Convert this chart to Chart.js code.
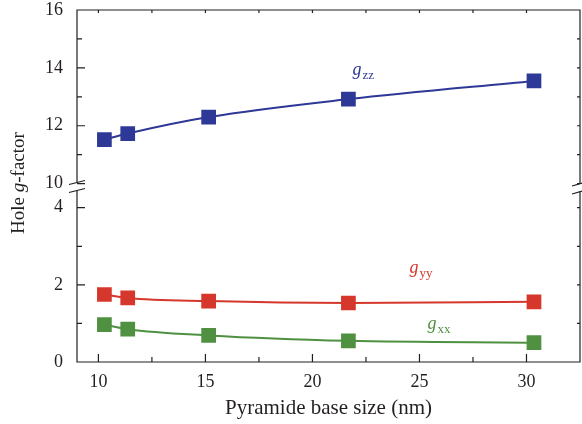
<!DOCTYPE html>
<html>
<head>
<meta charset="utf-8">
<script src="https://cdn.jsdelivr.net/npm/chart.js@4"></script>
<style>
    html, body { margin: 0; padding: 0; background: #fff; }
    #wrap { width: 582px; height: 424px; position: relative; }
</style>
</head>
<body>
<div id="wrap"><canvas id="gChart"></canvas></div>
<script>

const sizes = [10.28, 11.37, 15.15, 21.68, 30.35];
const gzz = [11.52, 11.73, 12.30, 12.92, 13.55];
const gyy = [1.75, 1.66, 1.58, 1.53, 1.56];
const gxx = [0.97, 0.85, 0.69, 0.55, 0.50];

const xTicks = [10, 12.5, 15, 17.5, 20, 22.5, 25, 27.5, 30];
const xMajor = [10, 15, 20, 25, 30];
const topTicks = [10, 11, 12, 13, 14, 15, 16];
const topMajor = [10, 12, 14, 16];
const botTicks = [0, 1, 2, 3, 4];
const botMajor = [0, 2, 4];

const colors = {
    zz: '#2e3896',
    yy: '#d6372c',
    xx: '#4f9140',
    axis: '#231f20'
};

// label anchors in data units
const seriesLabels = [
    { main: 'g', sub: 'zz', x: 21.87, y: 13.75, axis: 'yTop', color: colors.zz },
    { main: 'g', sub: 'yy', x: 24.53, y: 2.31, axis: 'yBot', color: colors.yy },
    { main: 'g', sub: 'xx', x: 25.37, y: 0.86, axis: 'yBot', color: colors.xx }
];

const serif = '"Liberation Serif", "DejaVu Serif", serif';

function series(values, color, axis) {
    return {
        data: values.map((v, i) => ({ x: sizes[i], y: v })),
        borderColor: color,
        backgroundColor: color,
        borderWidth: 2,
        cubicInterpolationMode: 'monotone',
        pointStyle: 'rect',
        pointRadius: 10.4,
        pointBorderWidth: 0,
        pointBackgroundColor: color,
        yAxisID: axis
    };
}

function fixedTicks(list) {
    return function (scale) {
        scale.ticks = list.map(v => ({ value: v }));
    };
}

// no edge padding from the tick labels
function noPad(size) {
    return function (scale) {
        if (scale.isHorizontal()) scale.height = size;
        else scale.width = size;
        scale.paddingLeft = 0;
        scale.paddingRight = 0;
        scale.paddingTop = 0;
        scale.paddingBottom = 0;
    };
}

const framePlugin = {
    id: 'frame',
    afterDraw(chart) {
        const ctx = chart.ctx;
        const a = chart.chartArea;
        const xs = chart.scales.x;
        const yt = chart.scales.yTop;
        const yb = chart.scales.yBot;
        const brk = yt.bottom;

        ctx.save();
        ctx.strokeStyle = colors.axis;
        ctx.lineWidth = 1.2;
        ctx.lineCap = 'butt';

        // frame with gaps at the break
        ctx.beginPath();
        ctx.moveTo(a.left, brk - 4);
        ctx.lineTo(a.left, a.top);
        ctx.lineTo(a.right, a.top);
        ctx.lineTo(a.right, brk - 3);
        ctx.moveTo(a.right, brk + 5);
        ctx.lineTo(a.right, a.bottom);
        ctx.lineTo(a.left, a.bottom);
        ctx.lineTo(a.left, brk + 4);
        ctx.stroke();

        // break marks
        ctx.beginPath();
        [-4, 4].forEach(d => {
            ctx.moveTo(a.left - 8, brk + d + 2);
            ctx.lineTo(a.left + 8, brk + d - 2);
            ctx.moveTo(a.right - 8, brk + d + 3.5);
            ctx.lineTo(a.right + 2, brk + d + 0.5);
        });
        ctx.stroke();

        // tick marks pointing inward
        ctx.beginPath();
        xTicks.forEach(v => {
            const px = xs.getPixelForValue(v);
            const len = xMajor.includes(v) ? 8 : 5;
            ctx.moveTo(px, a.bottom);
            ctx.lineTo(px, a.bottom - len);
            ctx.moveTo(px, a.top);
            ctx.lineTo(px, a.top + 3);
        });
        [[yt, topTicks, topMajor], [yb, botTicks, botMajor]].forEach(([sc, list, major]) => {
            list.forEach(v => {
                const py = sc.getPixelForValue(v);
                if (py <= a.top + 1 || py >= a.bottom - 1) return;
                const len = major.includes(v) ? 8 : 5;
                ctx.moveTo(a.left, py);
                ctx.lineTo(a.left + len, py);
                ctx.moveTo(a.right, py);
                ctx.lineTo(a.right - 3, py);
            });
        });
        ctx.stroke();

        // series labels
        ctx.textBaseline = 'alphabetic';
        ctx.textAlign = 'left';
        seriesLabels.forEach(l => {
            const px = xs.getPixelForValue(l.x);
            const py = chart.scales[l.axis].getPixelForValue(l.y);
            ctx.fillStyle = l.color;
            ctx.font = 'italic 18px ' + serif;
            ctx.fillText(l.main, px, py);
            const w = ctx.measureText(l.main).width;
            ctx.font = '13px ' + serif;
            ctx.fillText(l.sub, px + w + 1, py + 4);
        });

        // y title with italic g
        ctx.fillStyle = colors.axis;
        ctx.translate(19, 183);
        ctx.rotate(-Math.PI / 2);
        const parts = [['Hole ', ''], ['g', 'italic '], ['-factor', '']];
        let total = 0;
        parts.forEach(p => {
            ctx.font = p[1] + '19px ' + serif;
            total += ctx.measureText(p[0]).width;
        });
        let cx = -total / 2;
        ctx.textBaseline = 'middle';
        parts.forEach(p => {
            ctx.font = p[1] + '19px ' + serif;
            ctx.fillText(p[0], cx, 0);
            cx += ctx.measureText(p[0]).width;
        });
        ctx.restore();
    }
};

const tickFont = { family: serif, size: 18 };

new Chart(document.getElementById('gChart'), {
    type: 'line',
    data: {
        datasets: [
            series(gzz, colors.zz, 'yTop'),
            series(gyy, colors.yy, 'yBot'),
            series(gxx, colors.xx, 'yBot')
        ]
    },
    options: {
        responsive: true,
        maintainAspectRatio: false,
        animation: false,
        layout: { autoPadding: false, padding: { top: 10, right: 2, left: 0, bottom: 0 } },
        plugins: {
            legend: { display: false },
            tooltip: { enabled: false }
        },
        scales: {
            x: {
                type: 'linear',
                min: 9,
                max: 32.5,
                afterBuildTicks: fixedTicks(xTicks),
                afterFit: noPad(62),
                grid: { display: false, drawTicks: false },
                border: { display: false },
                ticks: {
                    autoSkip: false,
                    maxRotation: 0,
                    padding: 9,
                    color: colors.axis,
                    font: tickFont,
                    callback: v => xMajor.includes(v) ? String(v) : ''
                },
                title: {
                    display: true,
                    text: 'Pyramide base size (nm)',
                    color: colors.axis,
                    font: { family: serif, size: 21 },
                    padding: { top: 0, bottom: 3 }
                }
            },
            yBot: {
                type: 'linear',
                position: 'left',
                stack: 'g',
                stackWeight: 175.5,
                min: 0,
                max: 4.55,
                afterBuildTicks: fixedTicks(botTicks),
                afterFit: noPad(77),
                grid: { display: false, drawTicks: false },
                border: { display: false },
                ticks: {
                    autoSkip: false,
                    padding: 14,
                    color: colors.axis,
                    font: tickFont,
                    callback: v => botMajor.includes(v) ? String(v) : ''
                }
            },
            yTop: {
                type: 'linear',
                position: 'left',
                stack: 'g',
                stackWeight: 176.5,
                min: 9.9,
                max: 16,
                afterBuildTicks: fixedTicks(topTicks),
                afterFit: noPad(77),
                grid: { display: false, drawTicks: false },
                border: { display: false },
                ticks: {
                    autoSkip: false,
                    padding: 14,
                    color: colors.axis,
                    font: tickFont,
                    callback: v => topMajor.includes(v) ? String(v) : ''
                }
            }
        }
    },
    plugins: [framePlugin]
});
</script>
</body>
</html>
